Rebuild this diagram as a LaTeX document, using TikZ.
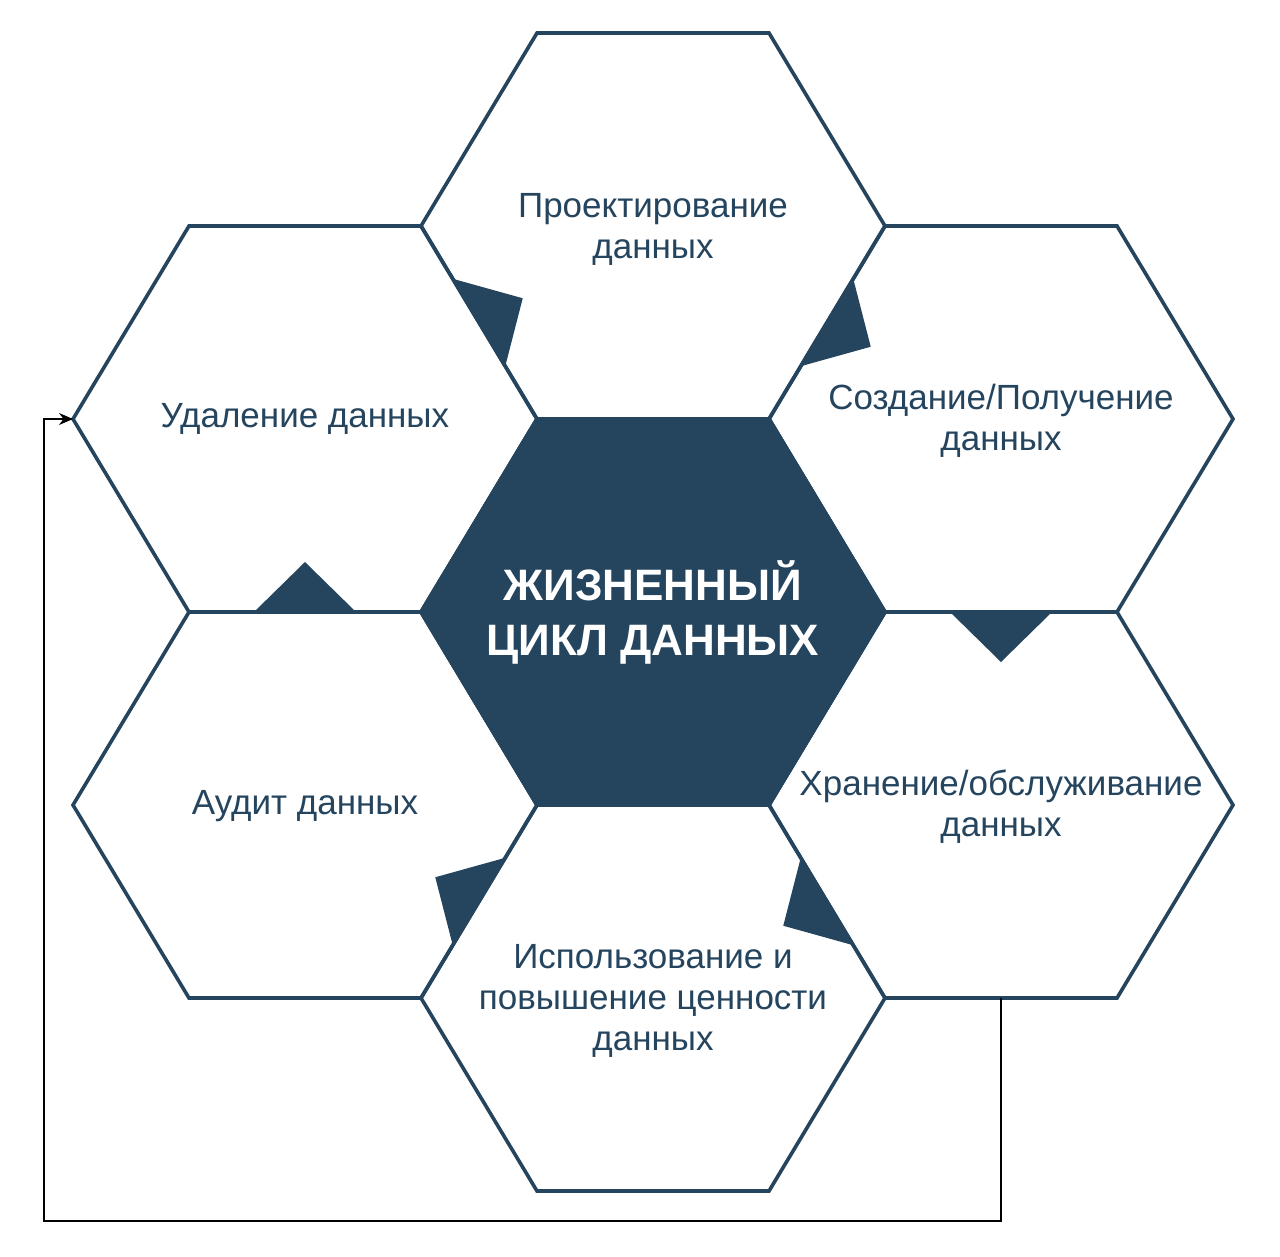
\documentclass[tikz,border=0pt]{standalone}
\usepackage{fontspec}
\setmainfont{Liberation Sans}
\usetikzlibrary{calc,arrows.meta}
\definecolor{navy}{HTML}{25445E}
\begin{document}
\begin{tikzpicture}[x=1pt,y=-1pt,
  hexa/.style={draw=navy, line width=3.6pt, line join=miter},
  core/.style={fill=navy, draw=navy, line width=3.6pt, line join=miter},
  txt/.style={text=navy, align=center, font=\fontsize{35}{41}\selectfont},
  ttl/.style={text=white, align=center, font=\fontsize{44}{55}\selectfont\bfseries},
  marker/.style={fill=navy},
  link/.style={draw=black, line width=1.3pt, -{Stealth[length=14pt,width=12pt]}}
]
\useasboundingbox (0,0) rectangle (1280,1256);
\foreach \n/\cx/\cy in {T/653/226, TL/305/419, TR/1001/419, C/653/612, BL/305/805, BR/1001/805, B/653/998}{
  \coordinate (\n) at (\cx,\cy);
  \coordinate (\n-r) at (\cx+232,\cy);
  \coordinate (\n-ur) at (\cx+116,\cy-193);
  \coordinate (\n-ul) at (\cx-116,\cy-193);
  \coordinate (\n-l) at (\cx-232,\cy);
  \coordinate (\n-ll) at (\cx-116,\cy+193);
  \coordinate (\n-lr) at (\cx+116,\cy+193);
  \coordinate (\n-b) at (\cx,\cy+193);
}
\fill[core] (C-r) -- (C-ur) -- (C-ul) -- (C-l) -- (C-ll) -- (C-lr) -- cycle;
\foreach \n in {T,TL,TR,BL,BR,B}{
  \draw[hexa] (\n-r) -- (\n-ur) -- (\n-ul) -- (\n-l) -- (\n-ll) -- (\n-lr) -- cycle;
}
\draw[core] (C-r) -- (C-ur) -- (C-ul) -- (C-l) -- (C-ll) -- (C-lr) -- cycle;
\foreach \p/\q/\t in {T-l/T-ll/T, T-r/T-lr/TR, TR-ll/TR-lr/BR, BR-l/BR-ll/B, B-l/B-ul/BL, BL-ul/BL-ur/TL}{
  \coordinate (m) at ($(\p)!0.5!(\q)$);
  \fill[marker] ($(m)!51pt!(\p)$) -- ($(m)!50pt!(\t)$) -- ($(m)!51pt!(\q)$) -- cycle;
}
\node[txt] (tT) at (653,229) {Проектирование\\данных};
\node[txt] (tTR) at (1001,421) {Создание/Получение\\данных};
\node[txt] (tTL) at (305,419) {Удаление данных};
\node[txt] (tBR) at (1001,807) {Хранение/обслуживание\\данных};
\node[txt] (tBL) at (305,806) {Аудит данных};
\node[txt] (tB) at (653,1001) {Использование и\\повышение ценности\\данных};
\node[ttl] (tC) at (653,612) {ЖИЗНЕННЫЙ\\ЦИКЛ ДАННЫХ};
\draw[link] (BR-b) -- ($(BR-b)+(0,223)$) -| ($(TL-l)+(-29,0)$) -- (TL-l);
\end{tikzpicture}
\end{document}
